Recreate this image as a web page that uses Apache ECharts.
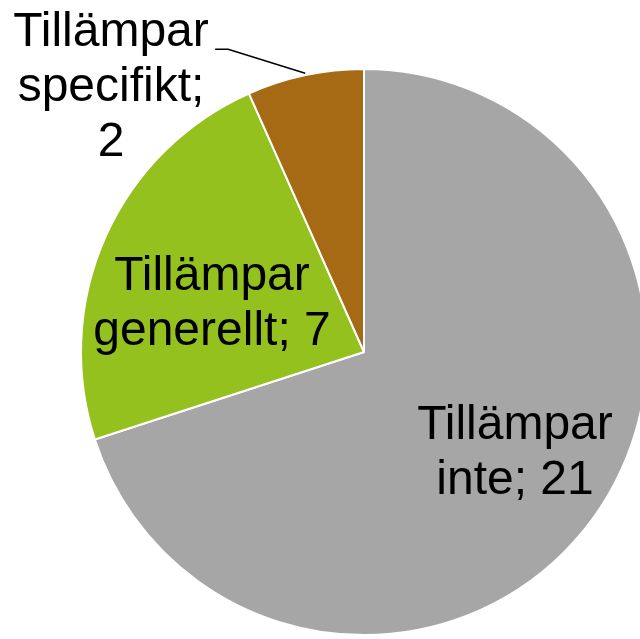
<!DOCTYPE html>
<html>
<head>
<meta charset="utf-8">
<script src="https://cdn.jsdelivr.net/npm/echarts@6/dist/echarts.min.js"></script>
<style>
  html, body { margin: 0; padding: 0; background: #fff; }
  #chart { width: 640px; height: 639px; }
</style>
</head>
<body>
<div id="chart"></div>
<script>
// kategorier och värden
var categories = ['Tillämpar inte', 'Tillämpar generellt', 'Tillämpar specifikt'];
var values = [21, 7, 2];
var colors = ['#a6a6a6', '#95c11f', '#a66a14'];

// etikettplatser (mitt) per tårtbit
var labelPos = [[515, 453], [212, 304], [111, 88]];

var chart = echarts.init(document.getElementById('chart'));

var data = categories.map(function (name, i) {
  var item = { name: name, value: values[i], itemStyle: { color: colors[i] } };
  if (i === 2) {
    item.label = { position: 'outside', formatter: function (p) { return p.name.replace(' ', '\n') + ';\n' + p.value; } };
    item.labelLine = { show: true, lineStyle: { color: '#000', width: 1.6 } };
  }
  return item;
});

chart.setOption({
  animation: false,
  series: [{
    type: 'pie',
    center: [364, 352],
    radius: 283,
    startAngle: 90,
    clockwise: true,
    itemStyle: { borderColor: '#fff', borderWidth: 2 },
    label: {
      show: true,
      position: 'inside',
      color: '#000',
      fontFamily: 'Liberation Sans, Arial, sans-serif',
      fontSize: 48,
      lineHeight: 55,
      align: 'center',
      formatter: function (p) { return p.name.replace(' ', '\n') + '; ' + p.value; }
    },
    labelLine: { show: false },
    labelLayout: function (params) {
      var pos = labelPos[params.dataIndex];
      var res = { x: pos[0], y: pos[1], align: 'center', verticalAlign: 'middle' };
      if (params.dataIndex === 2 && params.labelLinePoints) {
        var a = params.labelLinePoints[0];
        res.labelLinePoints = [[a[0], a[1] - 2], [a[0] - 77, a[1] - 26], [a[0] - 90, a[1] - 26]];
      }
      return res;
    },
    data: data
  }]
});
</script>
</body>
</html>
